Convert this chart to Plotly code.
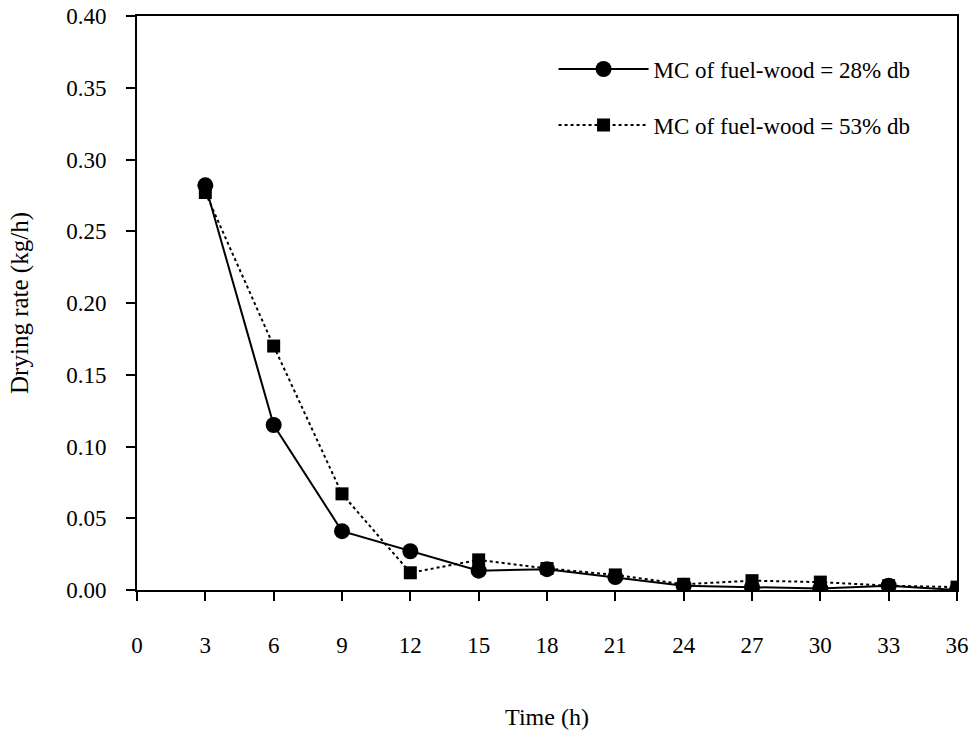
import plotly.graph_objects as go

# Drying time (h)
time_h = [3, 6, 9, 12, 15, 18, 21, 24, 27, 30, 33, 36]

# Drying rate (kg/h) for the two fuel-wood moisture contents
rate_mc28 = [0.282, 0.115, 0.041, 0.027, 0.0135, 0.0145, 0.009, 0.003, 0.002, 0.001, 0.003, 0.0]
rate_mc53 = [0.277, 0.170, 0.067, 0.012, 0.021, 0.015, 0.0105, 0.004, 0.0065, 0.0055, 0.003, 0.002]

x_ticks = list(range(0, 37, 3))
y_ticks = [0.00, 0.05, 0.10, 0.15, 0.20, 0.25, 0.30, 0.35, 0.40]

font_family = "Liberation Serif"

fig = go.Figure()
fig.add_trace(go.Scatter(
    x=time_h, y=rate_mc28, mode="lines+markers",
    name="MC of fuel-wood = 28% db", legendgroup="a",
    line=dict(color="black", width=2, dash="solid"),
    marker=dict(symbol="circle", size=16, color="black"),
))
fig.add_trace(go.Scatter(
    x=time_h, y=rate_mc53, mode="lines+markers",
    name="MC of fuel-wood = 53% db", legendgroup="b",
    line=dict(color="black", width=2, dash="dot"),
    marker=dict(symbol="square", size=13, color="black"),
))

axis_common = dict(
    showgrid=False, zeroline=False, showline=True, linecolor="black",
    linewidth=2, mirror=True, ticks="outside", tickwidth=2, ticklen=9,
    tickcolor="black", tickfont=dict(family=font_family, size=23, color="black"),
    automargin=False,
)

fig.update_xaxes(
    range=[0, 36], tickvals=x_ticks, ticktext=[str(v) for v in x_ticks],
    title=dict(text="Time (h)", font=dict(family=font_family, size=24, color="black"), standoff=52),
    ticklabelstandoff=24, **axis_common,
)
fig.update_yaxes(
    range=[0, 0.40], tickvals=y_ticks, ticktext=[f"{v:.2f}" for v in y_ticks],
    title=dict(text="Drying rate (kg/h)", font=dict(family=font_family, size=25, color="black"), standoff=30),
    ticklabelstandoff=15, **axis_common,
)

fig.update_layout(
    width=970, height=731,
    margin=dict(l=137, r=13, t=16, b=141, autoexpand=False),
    plot_bgcolor="white", paper_bgcolor="white",
    font=dict(family=font_family, size=23, color="black"),
    legend=dict(
        x=0.508, y=0.945, xanchor="left", yanchor="top",
        bgcolor="rgba(0,0,0,0)", borderwidth=0,
        font=dict(family=font_family, size=23, color="black"),
        itemwidth=90, tracegroupgap=23,
    ),
)

fig.write_html("out.html")
